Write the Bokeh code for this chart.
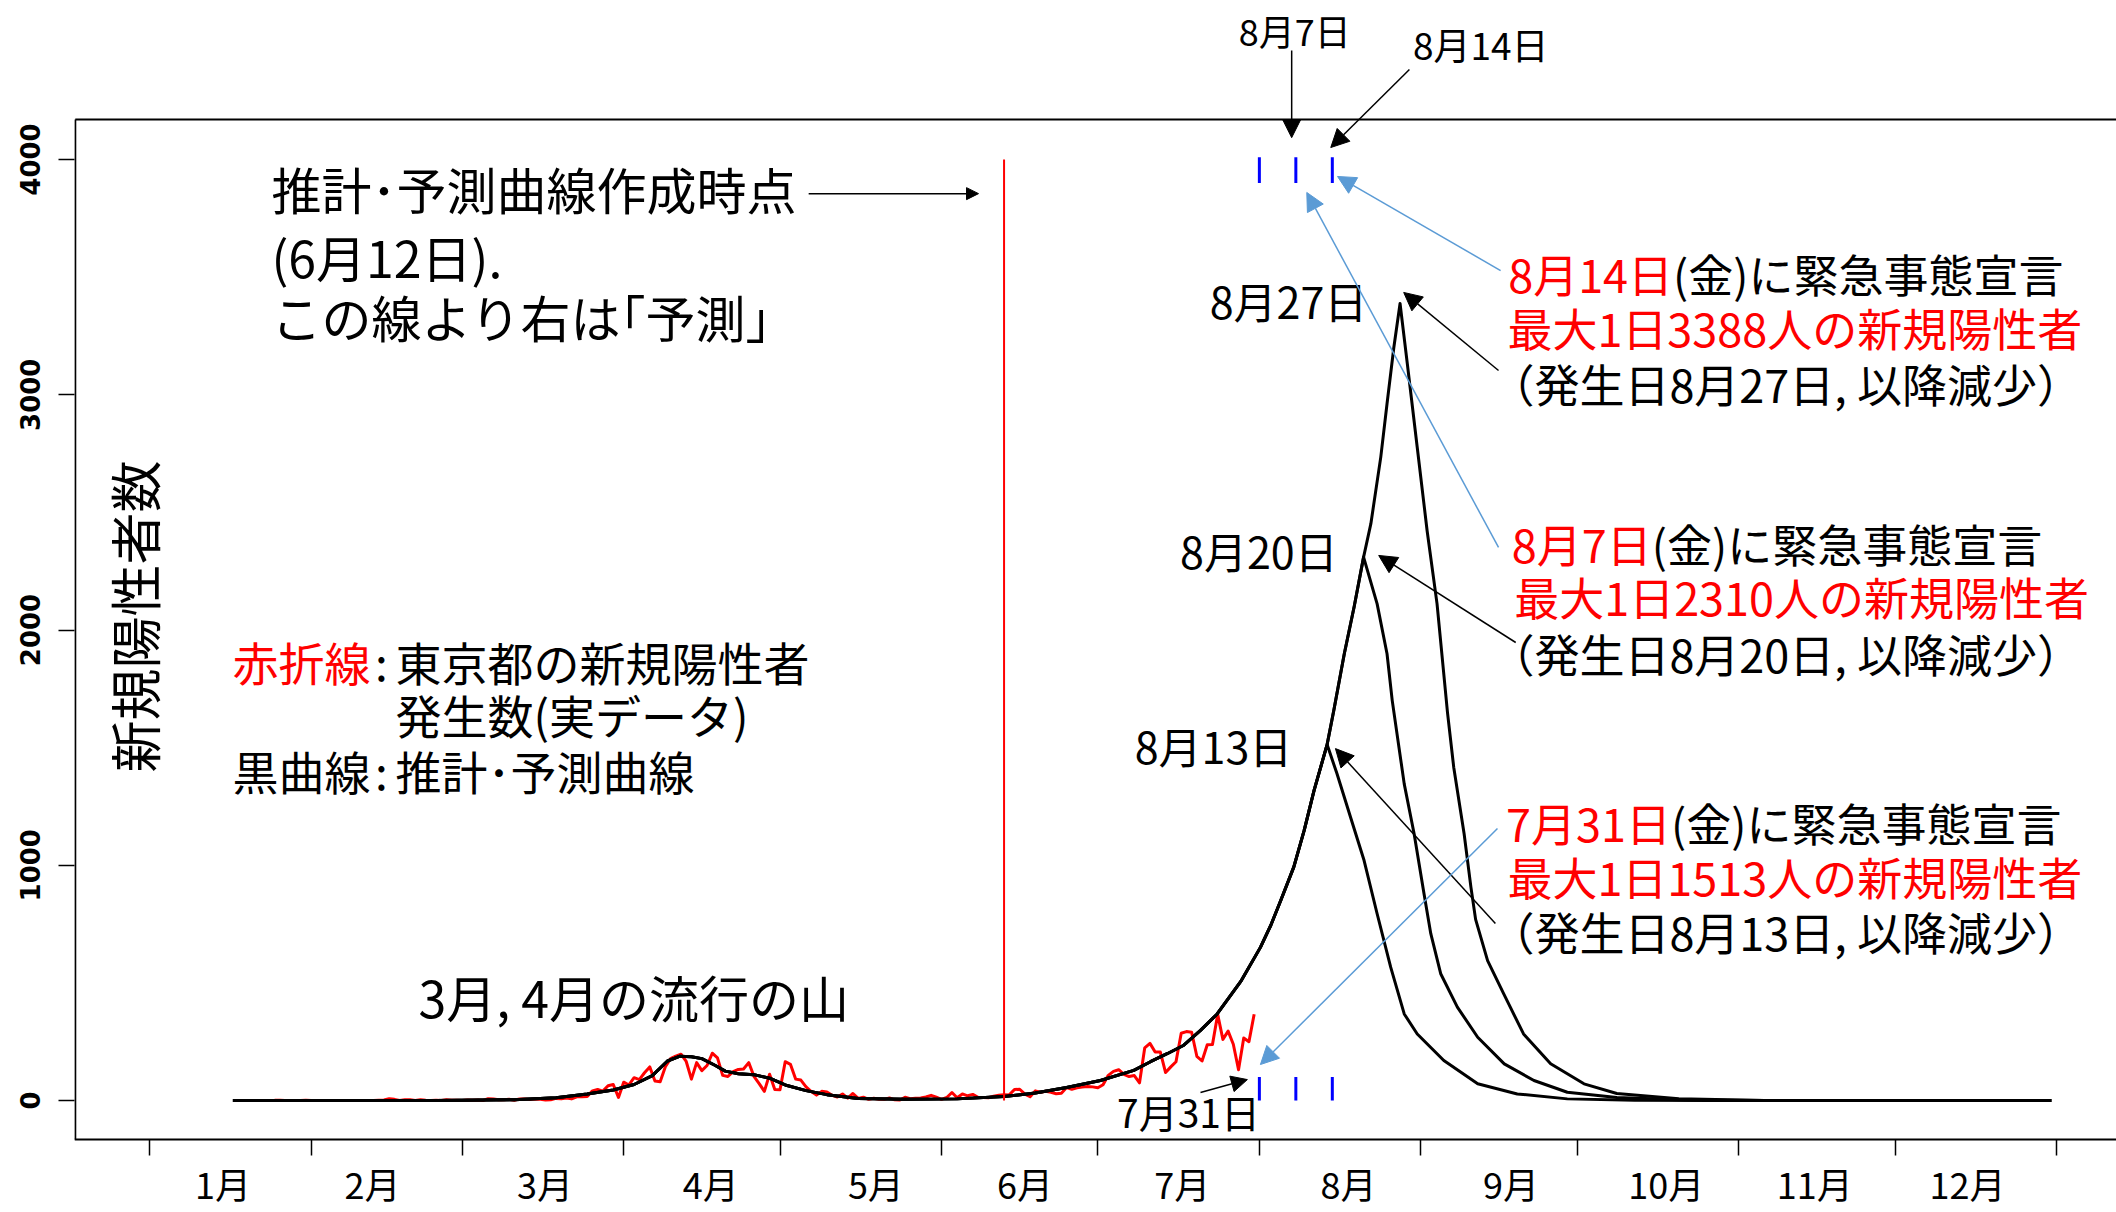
import math
from bokeh.plotting import figure
from bokeh.models import Range1d, FixedTicker, Label, Arrow, NormalHead
from bokeh.embed import file_html
from bokeh.resources import INLINE

FONT = "Noto Sans CJK JP"

# ---------------- data ----------------
# x axis: day of year 2020 (Jan 1 = 1); month boundaries
month_starts = [0, 31, 60, 91, 121, 152, 182, 213, 244, 274, 305, 335, 366]
month_names = ["1月", "2月", "3月", "4月", "5月", "6月", "7月", "8月", "9月", "10月", "11月", "12月"]
month_label_days = [14.1, 42.8, 75.9, 107.7, 139.4, 168.0, 198.2, 230.1, 261.3, 291.1, 319.6, 348.9]
y_ticks = [0, 1000, 2000, 3000, 4000]

# Tokyo daily new positives (red), from Jan 24 (day 24) to Jul 30 (day 212)
tokyo_first_day = 24
tokyo_cases = [
    1, 1, 0, 0, 0, 0, 1, 0,
    0, 0, 0, 0, 0, 0, 0, 0, 0, 0, 0, 0, 1, 2, 8, 5, 0, 3, 3, 0, 3, 1, 0, 1, 0, 3, 1, 1, 0,
    2, 1, 2, 0, 8, 6, 3, 3, 5, 1, 7, 7, 4, 6, 5, 2, 3, 9, 7, 11, 7, 16, 16, 17, 41, 47, 40, 63, 68, 13, 78,
    66, 97, 89, 118, 143, 83, 80, 144, 178, 189, 197, 166, 91, 161, 127, 149, 201, 181, 107, 102,
    123, 132, 134, 161, 103, 72, 39, 112, 47, 46,
    165, 154, 91, 87, 58, 38, 23, 39, 36, 22, 15, 28, 10, 30, 9, 14, 5, 10, 5, 5,
    11, 3, 2, 14, 8, 10, 11, 15, 22, 14, 5,
    13, 34, 12, 28, 20, 26, 14, 13, 12, 18, 22, 25, 24, 47, 48, 27, 16, 41, 35, 39,
    35, 29, 31, 55, 48, 54, 57, 60, 58, 54,
    67, 107, 124, 131, 111, 102, 106, 75, 224, 243, 206, 206, 119, 143, 165, 286, 293, 290, 188, 168,
    237, 238, 366, 260, 295, 239, 131, 266, 250, 367,
]

# estimated / forecast curve (black): common rising part up to the 8/13 peak
rise_day = [16, 55, 70, 78, 84, 89, 93, 96.5, 99.4, 101.7, 104, 106, 108.5, 110.5, 113, 116, 119,
            122, 126, 130, 136, 145, 155, 164, 170, 176, 182.5, 188.9, 192.1, 195.4, 198.5, 201.7,
            204.9, 209.4, 213.2, 215.2, 217.1, 219.6, 221.6, 223.5, 226]
rise_val = [0, 0, 3, 12, 28, 45, 68, 106, 168, 188, 186, 178, 150, 125, 114, 110, 95,
            66, 42, 25, 9, 5, 7, 17, 32, 55, 85, 128, 165, 200, 235, 298,
            368, 505, 651, 745, 850, 992, 1148, 1318, 1513]
# continued rise to the 8/20 peak
rise2_day = [227.3, 229.3, 231.2, 233]
rise2_val = [1660, 1899, 2100, 2310]
# continued rise to the 8/27 peak
rise3_day = [234.4, 236.3, 237.5, 238.8, 240]
rise3_val = [2452, 2735, 2962, 3200, 3388]

# decline after declaration on 7/31 (peak 1513 on 8/13)
decay1_day = [227.9, 230.5, 233.1, 235.6, 238.2, 240.8, 243.3, 248.4, 254.9, 262.5, 272.1, 285, 300, 365]
decay1_val = [1389, 1204, 1020, 794, 567, 368, 283, 170, 71, 28, 7, 1, 0, 0]
# decline after declaration on 8/7 (peak 2310 on 8/20)
decay2_day = [235.6, 237.5, 238.5, 240.8, 242.7, 244.6, 245.9, 247.8, 251.0, 254.9, 260.0, 265.7,
              272.1, 281.6, 295, 310, 365]
decay2_val = [2111, 1899, 1700, 1346, 1134, 879, 709, 539, 397, 269, 156, 85, 35, 13, 2, 0, 0]
# decline after declaration on 8/14 (peak 3388 on 8/27)
decay3_day = [241.4, 243.3, 245.2, 247.1, 249.1, 250.3, 252.3, 253.6, 254.5, 256.8, 259.9, 263.7,
              268.9, 275.3, 281.6, 293.5, 310, 365]
decay3_val = [3131, 2776, 2421, 2111, 1650, 1417, 1133, 907, 770, 595, 453, 283, 156, 71, 30, 8, 0, 0]

forecast_day = 164                  # 6/12
declaration_days = [213, 220, 227]  # 7/31, 8/7, 8/14
tick_low = [0, 100]
tick_high = [3900, 4010]

# plot box (R-style frame) in data units
X_START, X_END = -14.4, 377.5
Y_START, Y_END = -476, 4676
box_left, box_bottom, box_top = -14.25, -166, 4170

# ---------------- figure ----------------
p = figure(width=2116, height=1212, x_range=Range1d(X_START, X_END), y_range=Range1d(Y_START, Y_END),
           output_backend="svg", toolbar_location=None,
           min_border_left=74, min_border_right=0, min_border_top=0, min_border_bottom=0,
           outline_line_color=None, background_fill_color="white", border_fill_color="white")
p.xgrid.visible = False
p.ygrid.visible = False

# left axis (ticks + labels only; frame line drawn separately)
ya = p.yaxis[0]
ya.ticker = FixedTicker(ticks=y_ticks)
ya.axis_line_color = None
ya.major_tick_out = 16
ya.major_tick_in = 0
ya.major_tick_line_width = 1.5
ya.major_tick_line_color = "black"
ya.minor_tick_line_color = None
ya.major_label_orientation = "parallel"
ya.major_label_standoff = 18
ya.major_label_text_font = "DejaVu Sans"
ya.major_label_text_font_size = "26px"
ya.major_label_text_font_style = "bold"
ya.major_label_text_color = "black"

# bottom axis placed at the bottom of the plot box
xa = p.xaxis[0]
xa.fixed_location = box_bottom
xa.ticker = FixedTicker(ticks=month_label_days, minor_ticks=month_starts)
xa.major_label_overrides = {d: n for d, n in zip(month_label_days, month_names)}
xa.major_tick_line_color = None
xa.major_tick_out = 0
xa.major_tick_in = 0
xa.minor_tick_line_color = "black"
xa.minor_tick_line_width = 1.5
xa.minor_tick_out = 16
xa.minor_tick_in = 0
xa.major_label_standoff = 1
xa.major_label_text_font = FONT
xa.major_label_text_font_size = "36px"
xa.major_label_text_color = "black"
xa.axis_line_width = 2
xa.axis_line_color = "black"

# frame: left and top sides
p.segment(x0=[box_left, box_left], y0=[box_bottom, box_top], x1=[box_left, X_END], y1=[box_top, box_top],
          line_color="black", line_width=2)

# ---------------- data marks ----------------
red_days = list(range(tokyo_first_day, tokyo_first_day + len(tokyo_cases)))
p.line(red_days, tokyo_cases, line_color="#ff0000", line_width=3, line_join="round")

curves = [
    (rise_day + decay1_day, rise_val + decay1_val),
    (rise_day + rise2_day + decay2_day, rise_val + rise2_val + decay2_val),
    (rise_day + rise2_day + rise3_day + decay3_day, rise_val + rise2_val + rise3_val + decay3_val),
]
for dx, vy in curves:
    p.line(dx, vy, line_color="black", line_width=3, line_join="round")

p.segment(x0=[forecast_day], y0=[y_ticks[0]], x1=[forecast_day], y1=[y_ticks[-1]],
          line_color="#ff0000", line_width=2)
n = len(declaration_days)
p.segment(x0=declaration_days, y0=[tick_low[0]] * n, x1=declaration_days, y1=[tick_low[1]] * n,
          line_color="#0000ff", line_width=3)
p.segment(x0=declaration_days, y0=[tick_high[0]] * n, x1=declaration_days, y1=[tick_high[1]] * n,
          line_color="#0000ff", line_width=3)

# ---------------- annotations ----------------
def lab(x, y, text, size, color="black", align="left", x_offset=0, angle=0, y_offset=4):
    p.add_layout(Label(x=x, y=y, text=text, text_font=FONT, text_font_size=f"{size}px",
                       text_color=color, text_align=align, text_baseline="middle",
                       x_offset=x_offset, y_offset=y_offset, angle=angle))

def arrow(x0, y0, x1, y1, color="black", head=18, width=1.5):
    p.add_layout(Arrow(end=NormalHead(size=head, fill_color=color, line_color=color, line_width=1),
                       x_start=x0, y_start=y0, x_end=x1, y_end=y1,
                       line_color=color, line_width=width))

RED = "#ff0000"
BLUE = "#5b9bd5"

# y axis title
lab(-3.1, 2057, "新規陽性者数", 52, align="center", angle=math.pi / 2, y_offset=0)

# forecast explanation
lab(23.4, 3860, "推計･予測曲線作成時点", 50)
lab(23.4, 3575, "(6月12日).", 50)
lab(23.4, 3316, "この線より右は｢予測｣", 50)
arrow(126.5, 3855, 159.1, 3855, head=12)

lab(51.6, 429, "3月, 4月の流行の山", 50)

# legend text
lab(15.9, 1853, "赤折線", 46, color=RED)
lab(44.5, 1853, ":", 46, align="center")
lab(47.2, 1853, "東京都の新規陽性者", 46)
lab(47.2, 1628, "発生数(実データ)", 46)
lab(15.9, 1390, "黒曲線", 46)
lab(44.5, 1390, ":", 46, align="center")
lab(47.2, 1390, "推計･予測曲線", 46)

# right-hand scenario notes
lab(292.4, 3498, "8月14日", 45, color=RED, align="right")
lab(292.4, 3498, "(金)に緊急事態宣言", 45)
lab(260.6, 3269, "最大1日3388人の新規陽性者", 45, color=RED)
lab(260.6, 3031, "（発生日8月27日, 以降減少）", 45, x_offset=-18)

lab(288.3, 2351, "8月7日", 45, color=RED, align="right")
lab(288.3, 2351, "(金)に緊急事態宣言", 45)
lab(261.9, 2125, "最大1日2310人の新規陽性者", 45, color=RED)
lab(260.6, 1883, "（発生日8月20日, 以降減少）", 45, x_offset=-18)

lab(292.0, 1165, "7月31日", 45, color=RED, align="right")
lab(292.0, 1165, "(金)に緊急事態宣言", 45)
lab(260.6, 935, "最大1日1513人の新規陽性者", 45, color=RED)
lab(260.6, 701, "（発生日8月13日, 以降減少）", 45, x_offset=-18)

# peak date labels
lab(218.6, 3388, "8月27日", 43, align="center")
lab(212.9, 2325, "8月20日", 43, align="center")
lab(204.2, 1496, "8月13日", 43, align="center")
lab(199.4, -60, "7月31日", 39, align="center")
lab(219.8, 4557, "8月7日", 36, align="center", y_offset=-2)
lab(255.5, 4472, "8月14日", 37, align="center")

# black arrows
arrow(258.9, 3103, 240.7, 3435)
arrow(262.2, 1947, 235.9, 2317)
arrow(258.3, 752, 227.6, 1496)
arrow(201.7, 34, 210.7, 89, head=16)
arrow(219.2, 4463, 219.2, 4093)
arrow(241.8, 4383, 226.7, 4051)

# blue arrows
arrow(259.3, 3528, 228.0, 3928, color=BLUE)
arrow(258.9, 2351, 222.1, 3860, color=BLUE)
arrow(258.7, 1156, 213.2, 153, color=BLUE)

open("out.html", "w").write(file_html(p, INLINE))
